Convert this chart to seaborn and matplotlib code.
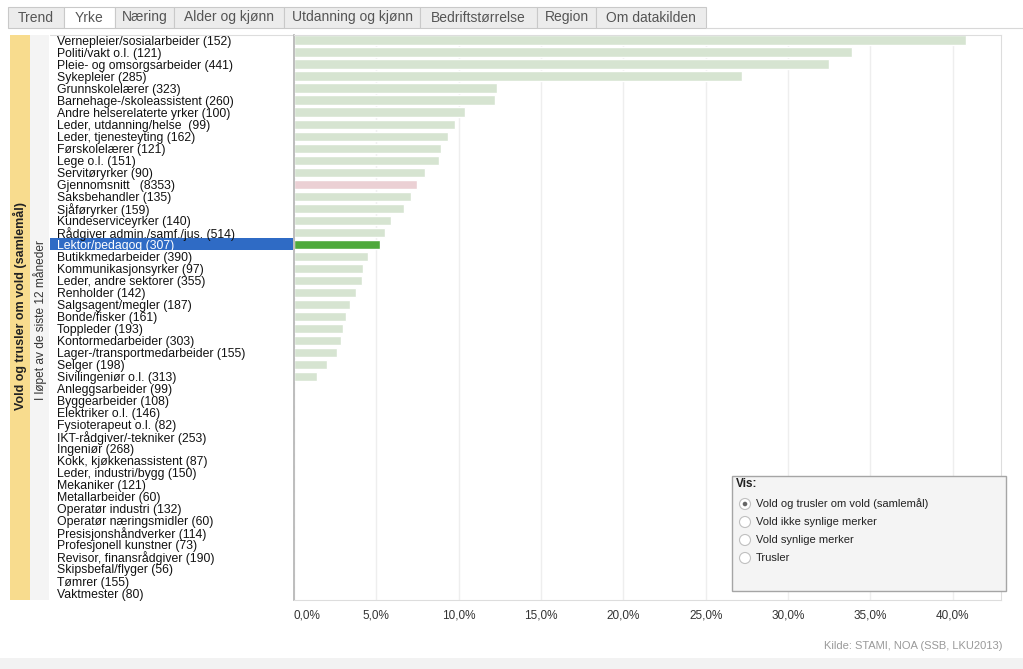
import pandas as pd
import matplotlib.pyplot as plt
import seaborn as sns
from matplotlib.patches import Rectangle, Circle
from matplotlib.transforms import blended_transform_factory

# yrker med antall svar i parentes, i samme rekkefølge som i figuren
yrker = [
    "Vernepleier/sosialarbeider (152)", "Politi/vakt o.l. (121)", "Pleie- og omsorgsarbeider (441)",
    "Sykepleier (285)", "Grunnskolelærer (323)", "Barnehage-/skoleassistent (260)",
    "Andre helserelaterte yrker (100)", "Leder, utdanning/helse  (99)", "Leder, tjenesteyting (162)",
    "Førskolelærer (121)", "Lege o.l. (151)", "Servitøryrker (90)", "Gjennomsnitt   (8353)",
    "Saksbehandler (135)", "Sjåføryrker (159)", "Kundeserviceyrker (140)",
    "Rådgiver admin./samf./jus. (514)", "Lektor/pedagog (307)", "Butikkmedarbeider (390)",
    "Kommunikasjonsyrker (97)", "Leder, andre sektorer (355)", "Renholder (142)",
    "Salgsagent/megler (187)", "Bonde/fisker (161)", "Toppleder (193)", "Kontormedarbeider (303)",
    "Lager-/transportmedarbeider (155)", "Selger (198)", "Sivilingeniør o.l. (313)",
    "Anleggsarbeider (99)", "Byggearbeider (108)", "Elektriker o.l. (146)", "Fysioterapeut o.l. (82)",
    "IKT-rådgiver/-tekniker (253)", "Ingeniør (268)", "Kokk, kjøkkenassistent (87)",
    "Leder, industri/bygg (150)", "Mekaniker (121)", "Metallarbeider (60)", "Operatør industri (132)",
    "Operatør næringsmidler (60)", "Presisjonshåndverker (114)", "Profesjonell kunstner (73)",
    "Revisor, finansrådgiver (190)", "Skipsbefal/flyger (56)", "Tømrer (155)", "Vaktmester (80)",
]
# andel (%) som har opplevd vold og trusler om vold siste 12 måneder
andel = [
    40.8, 33.9, 32.5, 27.2, 12.3, 12.2, 10.4, 9.8, 9.35, 8.9, 8.8, 7.95, 7.45,
    7.1, 6.65, 5.9, 5.55, 5.25, 4.5, 4.2, 4.15, 3.75, 3.4, 3.15, 2.95, 2.85,
    2.6, 2.0, 1.4, 0, 0, 0, 0, 0, 0, 0, 0, 0, 0, 0, 0, 0, 0, 0, 0, 0, 0,
]
valgt = "Lektor/pedagog (307)"
snitt = "Gjennomsnitt   (8353)"

faner = ["Trend", "Yrke", "Næring", "Alder og kjønn", "Utdanning og kjønn",
         "Bedriftstørrelse", "Region", "Om datakilden"]
fane_kanter = [8, 64, 115, 174, 284, 420, 537, 596, 706]

x_ticks = [0, 5, 10, 15, 20, 25, 30, 35, 40]
x_tick_labels = ["0,0%", "5,0%", "10,0%", "15,0%", "20,0%", "25,0%", "30,0%", "35,0%", "40,0%"]

vis_valg = ["Vold og trusler om vold (samlemål)", "Vold ikke synlige merker",
            "Vold synlige merker", "Trusler"]

sns.set_theme(style="white")
plt.rcParams["font.family"] = ["Liberation Sans", "DejaVu Sans"]

df = pd.DataFrame({"yrke": yrker, "andel": andel})  # samler data i en tabell
farger = {y: "#d6e4d1" for y in yrker}
farger[snitt] = "#ebd0d4"
farger[valgt] = "#4ea93b"

W, H = 1023, 669
fig = plt.figure(figsize=(W / 100, H / 100), dpi=100)

# bakgrunn i pikselkoordinater: faner, bånd, kilde
bg = fig.add_axes([0, 0, 1, 1])
bg.set_xlim(0, W)
bg.set_ylim(H, 0)
bg.axis("off")

for i, navn in enumerate(faner):
    x0, x1 = fane_kanter[i], fane_kanter[i + 1]
    fc = "white" if navn == "Yrke" else "#ececec"
    bg.add_patch(Rectangle((x0, 7), x1 - x0, 21, fc=fc, ec="#c9c9c9", lw=0.8))
    bg.text((x0 + x1) / 2, 17.5, navn, ha="center", va="center", fontsize=10, color="#555555")
bg.plot([706, W], [28, 28], color="#d8d8d8", lw=0.8)

bg.add_patch(Rectangle((10, 35), 20, 565, fc="#f8dc8e", ec="none"))
bg.add_patch(Rectangle((30, 35), 19, 565, fc="#f4f4f4", ec="none"))
bg.text(20, 306, "Vold og trusler om vold (samlemål)", rotation=90, ha="center", va="center",
        fontsize=9, fontweight="bold", color="#222222")
bg.text(40, 320, "I løpet av de siste 12 måneder", rotation=90, ha="center", va="center",
        fontsize=8.6, color="#333333")

bg.text(1002, 646, "Kilde: STAMI, NOA (SSB, LKU2013)", ha="right", va="center",
        fontsize=8, color="#9a9a9a")
bg.add_patch(Rectangle((0, 658), W, 11, fc="#f2f2f2", ec="none"))

# selve stolpediagrammet
ax = fig.add_axes([294 / W, (H - 600) / H, (1001 - 294) / W, 565 / H])
ax.set_zorder(2)
ax.patch.set_alpha(0)
sns.barplot(data=df, x="andel", y="yrke", hue="yrke", palette=farger, legend=False,
            orient="h", width=0.78, saturation=1, ax=ax)
ax.set_xlim(0, (1001 - 294) / 16.47)
ax.set_ylim(len(yrker) - 1 + 0.58, -0.42)
ax.set_xlabel("")
ax.set_ylabel("")

for t in x_ticks:
    ax.axvline(t, color="#eeeeee", lw=1, zorder=0)
ax.set_xticks(x_ticks)
ax.set_xticklabels(x_tick_labels, fontsize=8.5, color="#333333")
ax.get_xticklabels()[0].set_ha("left")
ax.tick_params(axis="x", length=0, pad=7)

ax.set_yticks(range(len(yrker)))
ax.set_yticklabels(yrker, ha="left", fontsize=8.8, color="#111111")
ax.tick_params(axis="y", length=0, pad=(294 - 57) * 0.72)
for lab in ax.get_yticklabels():
    if lab.get_text() == valgt:
        lab.set_color("white")

# blå markering av valgt yrke
tr = blended_transform_factory(bg.transData, ax.transData)
iv = yrker.index(valgt)
ax.add_patch(Rectangle((50, iv - 0.5), 243, 1.0, transform=tr, fc="#2f6bc5", ec="none",
                       clip_on=False, zorder=0))

ax.spines["left"].set_color("#b5b5b5")
for s in ["top", "right", "bottom"]:
    ax.spines[s].set_color("#dddddd")
    ax.spines[s].set_linewidth(0.8)
bg.plot([50, 294], [35, 35], color="#dddddd", lw=0.8)

# valgboksen "Vis:" ligger over diagrammet
fg = fig.add_axes([0, 0, 1, 1])
fg.set_zorder(3)
fg.set_xlim(0, W)
fg.set_ylim(H, 0)
fg.axis("off")
fg.add_patch(Rectangle((732, 476), 274, 115, fc="#f4f4f4", ec="#a5a5a5", lw=1))
fg.text(736, 484, "Vis:", fontsize=8.5, fontweight="bold", va="center", color="#222222")
for k, tekst in enumerate(vis_valg):
    yy = 504 + k * 18
    fg.add_patch(Circle((745, yy), 5.5, fc="white", ec="#c0c0c0", lw=0.8))
    if k == 0:
        fg.add_patch(Circle((745, yy), 2.3, fc="#666666", ec="none"))
    fg.text(756, yy, tekst, fontsize=8, va="center", color="#222222")

plt.savefig("out.png", dpi=100)
plt.close()
